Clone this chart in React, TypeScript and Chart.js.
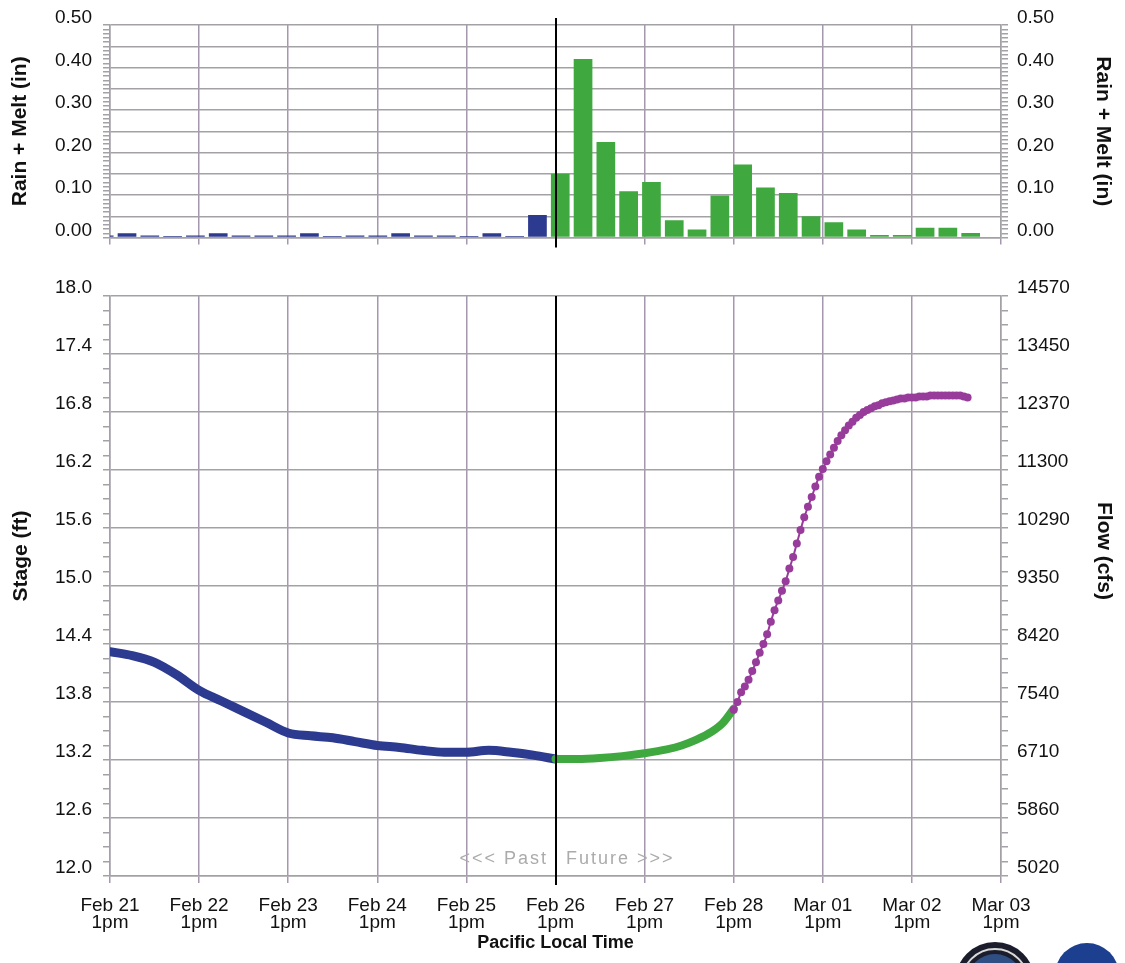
import React, { useEffect, useRef } from 'react';
import { Chart, registerables } from 'chart.js';

Chart.register(...registerables);

const FONT = "'Liberation Sans', Arial, Helvetica, sans-serif";
Chart.defaults.font.family = FONT;
Chart.defaults.color = '#111';

// ---------------- data ----------------
// 6-hour Rain + Melt periods (period 0 is partly cut off at the left edge)
const rainPeriods = [0, 1, 2, 3, 4, 5, 6, 7, 8, 9, 10, 11, 12, 13, 14, 15, 16, 17, 18, 19,
  20, 21, 22, 23, 24, 25, 26, 27, 28, 29, 30, 31, 32, 33, 34, 35, 36, 37, 38];
const rainMelt = [0.005, 0.01, 0.005, 0.004, 0.005, 0.01, 0.005, 0.005, 0.005, 0.01,
  0.004, 0.005, 0.005, 0.01, 0.005, 0.005, 0.004, 0.01, 0.004, 0.053,
  0.15, 0.42, 0.225, 0.109, 0.131, 0.041, 0.019, 0.099, 0.172, 0.118,
  0.105, 0.05, 0.036, 0.019, 0.006, 0.006, 0.023, 0.023, 0.011];
const firstFuturePeriod = 20;
const rainTickLabels = ['0.00', '0.10', '0.20', '0.30', '0.40', '0.50'];

// hours since Feb 21 1pm
const dayTickLabels = [
  ['Feb 21', '1pm'], ['Feb 22', '1pm'], ['Feb 23', '1pm'], ['Feb 24', '1pm'],
  ['Feb 25', '1pm'], ['Feb 26', '1pm'], ['Feb 27', '1pm'], ['Feb 28', '1pm'],
  ['Mar 01', '1pm'], ['Mar 02', '1pm'], ['Mar 03', '1pm'],
];
const nowHour = 120;

const stageTickLabels = ['12.0', '12.6', '13.2', '13.8', '14.4', '15.0', '15.6', '16.2', '16.8', '17.4', '18.0'];
const flowTickLabels = ['5020', '5860', '6710', '7540', '8420', '9350', '10290', '11300', '12370', '13450', '14570'];

// observed stage (blue)
const observedHours = [0, 6, 12, 18, 24, 30, 36, 42, 48, 54, 60, 66, 72, 78, 84, 90, 96, 102, 108, 114, 120];
const observedStage = [14.32, 14.28, 14.21, 14.08, 13.92, 13.81, 13.70, 13.59, 13.48, 13.45, 13.43,
  13.39, 13.35, 13.33, 13.30, 13.28, 13.28, 13.30, 13.28, 13.25, 13.21];

// forecast stage (green)
const forecastHours = [120, 126, 132, 138, 144, 150, 154, 158, 162, 165, 168];
const forecastStage = [13.21, 13.21, 13.22, 13.24, 13.27, 13.31, 13.35, 13.41, 13.49, 13.58, 13.73];

// extended forecast stage (purple, hourly)
const outlookHours = [168, 169, 170, 171, 172, 173, 174, 175, 176, 177, 178, 179, 180, 181, 182, 183,
  184, 185, 186, 187, 188, 189, 190, 191, 192, 193, 194, 195, 196, 197, 198, 199, 200, 201, 202, 203,
  204, 205, 206, 207, 208, 209, 210, 211, 212, 213, 214, 215, 216, 217, 218, 219, 220, 221, 222, 223,
  224, 225, 226, 227, 228, 229, 230, 231];
const outlookStage = [13.72, 13.80, 13.90, 13.96, 14.03, 14.12, 14.21, 14.31, 14.40, 14.50, 14.63, 14.75,
  14.85, 14.95, 15.05, 15.18, 15.30, 15.44, 15.58, 15.71, 15.82, 15.92, 16.03, 16.13, 16.21, 16.29,
  16.36, 16.43, 16.50, 16.56, 16.61, 16.66, 16.70, 16.74, 16.77, 16.80, 16.82, 16.84, 16.86, 16.87,
  16.89, 16.90, 16.91, 16.92, 16.93, 16.94, 16.94, 16.95, 16.95, 16.95, 16.96, 16.96, 16.96, 16.97,
  16.97, 16.97, 16.97, 16.97, 16.97, 16.97, 16.97, 16.97, 16.96, 16.95];

// ---------------- styles ----------------
const BLUE = '#2c3a8f';
const GREEN = '#3fa83f';
const PURPLE = '#983c9b';
const HGRID = '#a3a1a6';
const VGRID = '#a597b0';
const TRANSPARENT = 'rgba(0,0,0,0)';

const dayTicks = dayTickLabels.map((_, i) => i * 24);

function nowLinePlugin(extTop: number, extBottom: number) {
  return {
    id: 'nowLine',
    afterDatasetsDraw(chart: any) {
      const { ctx, chartArea, scales } = chart;
      const x = Math.round(scales.x.getPixelForValue(nowHour));
      ctx.save();
      ctx.strokeStyle = '#000';
      ctx.lineWidth = 2;
      ctx.beginPath();
      ctx.moveTo(x, chartArea.top - extTop);
      ctx.lineTo(x, chartArea.bottom + extBottom);
      ctx.stroke();
      ctx.restore();
    },
  };
}

function TopChart() {
  const ref = useRef<HTMLCanvasElement>(null);
  useEffect(() => {
    const chart = new Chart(ref.current as HTMLCanvasElement, {
      type: 'bar',
      data: {
        datasets: [
          {
            data: rainPeriods.map((p, i) => ({ x: p, y: rainMelt[i] })),
            xAxisID: 'xb',
            yAxisID: 'y',
            backgroundColor: rainPeriods.map((p) => (p < firstFuturePeriod ? BLUE : GREEN)),
            borderWidth: 0,
            barPercentage: 0.82,
            categoryPercentage: 1,
            clip: 0,
          } as any,
        ],
      },
      options: {
        animation: false,
        responsive: false,
        maintainAspectRatio: false,
        layout: { padding: { top: 25, left: 0, right: 0, bottom: 0 } },
        plugins: { legend: { display: false }, tooltip: { enabled: false } },
        scales: {
          xb: { type: 'linear', display: false, min: 0.254, max: 39.33, offset: false, grid: { offset: false } } as any,
          x: {
            type: 'linear',
            position: 'bottom',
            min: 0,
            max: 240,
            offset: false,
            afterBuildTicks: (s: any) => { s.ticks = dayTicks.map((v) => ({ value: v })); },
            afterFit: (s: any) => { s.height = 20; },
            grid: { offset: false, color: VGRID, lineWidth: 1.5, tickLength: 7 },
            border: { display: true, color: HGRID, width: 1.5 },
            ticks: { autoSkip: false, maxRotation: 0, callback: () => '' },
          } as any,
          y: {
            position: 'left',
            min: 0,
            max: 0.5,
            afterBuildTicks: (s: any) => { s.ticks = Array.from({ length: 51 }, (_, i) => ({ value: i / 100 })); },
            afterFit: (s: any) => { s.width = 110; },
            grid: {
              color: (c: any) => (c.index % 5 === 0 ? HGRID : TRANSPARENT),
              tickColor: HGRID,
              lineWidth: 1.5,
              tickLength: 7,
            },
            border: { display: true, color: HGRID, width: 1.5 },
            ticks: {
              autoSkip: false,
              padding: 11,
              labelOffset: -7,
              font: { size: 19 },
              color: '#111',
              callback: (_v: any, i: number) => (i % 10 === 0 ? rainTickLabels[i / 10] : ''),
            },
            title: {
              display: true,
              text: 'Rain + Melt (in)',
              font: { size: 21, weight: 'bold' },
              color: '#111',
              padding: { top: 8, bottom: 0 },
            },
          } as any,
          yr: {
            position: 'right',
            min: 0,
            max: 0.5,
            afterBuildTicks: (s: any) => { s.ticks = Array.from({ length: 51 }, (_, i) => ({ value: i / 100 })); },
            afterFit: (s: any) => { s.width = 124; },
            grid: { drawOnChartArea: false, tickColor: HGRID, lineWidth: 1.5, tickLength: 7 },
            border: { display: true, color: HGRID, width: 1.5 },
            ticks: {
              autoSkip: false,
              padding: 9,
              labelOffset: -7,
              font: { size: 19 },
              color: '#111',
              callback: (_v: any, i: number) => (i % 10 === 0 ? rainTickLabels[i / 10] : ''),
            },
            title: {
              display: true,
              text: 'Rain + Melt (in)',
              font: { size: 21, weight: 'bold' },
              color: '#111',
              padding: { top: 10, bottom: 0 },
            },
          } as any,
        },
      },
      plugins: [nowLinePlugin(7, 10)],
    });
    return () => chart.destroy();
  }, []);
  return (
    <canvas ref={ref} width={1125} height={260} style={{ position: 'absolute', left: 0, top: 0, width: 1125, height: 260 }} />
  );
}

function BottomChart() {
  const ref = useRef<HTMLCanvasElement>(null);
  useEffect(() => {
    const decor = {
      id: 'decor',
      afterDatasetsDraw(chart: any) {
        const { ctx, chartArea, scales } = chart;
        const x = Math.round(scales.x.getPixelForValue(nowHour));
        const y = chartArea.bottom - 17;
        ctx.save();
        ctx.font = `18px ${FONT}`;
        ctx.fillStyle = '#ababab';
        ctx.textBaseline = 'middle';
        try { (ctx as any).letterSpacing = '2px'; } catch (e) { /* ignore */ }
        ctx.textAlign = 'right';
        ctx.fillText('<<< Past', x - 8, y);
        ctx.textAlign = 'left';
        ctx.fillText('Future >>>', x + 10, y);
        ctx.restore();
      },
      afterDraw(chart: any) {
        const { ctx, chartArea } = chart;
        const cy = (chartArea.top + chartArea.bottom) / 2 - 30;
        ctx.save();
        ctx.font = `bold 21px ${FONT}`;
        ctx.fillStyle = '#111';
        ctx.textAlign = 'center';
        ctx.textBaseline = 'middle';
        ctx.translate(21, cy);
        ctx.rotate(-Math.PI / 2);
        ctx.fillText('Stage (ft)', 0, 0);
        ctx.restore();
        ctx.save();
        ctx.font = `bold 21px ${FONT}`;
        ctx.fillStyle = '#111';
        ctx.textAlign = 'center';
        ctx.textBaseline = 'middle';
        ctx.translate(1104, cy - 5);
        ctx.rotate(Math.PI / 2);
        ctx.fillText('Flow (cfs)', 0, 0);
        ctx.restore();
        // agency seals, cut off by the bottom edge
        ctx.save();
        ctx.beginPath();
        ctx.arc(995, 722, 40, 0, Math.PI * 2);
        ctx.fillStyle = '#1b1d2c';
        ctx.fill();
        ctx.beginPath();
        ctx.arc(995, 722, 33, 0, Math.PI * 2);
        ctx.strokeStyle = '#d8d8d8';
        ctx.lineWidth = 2;
        ctx.stroke();
        ctx.beginPath();
        ctx.arc(995, 722, 28, 0, Math.PI * 2);
        ctx.fillStyle = '#2f4f84';
        ctx.fill();
        ctx.beginPath();
        ctx.arc(1087, 715, 32, 0, Math.PI * 2);
        ctx.fillStyle = '#1d3f8f';
        ctx.fill();
        ctx.restore();
      },
    };
    const chart = new Chart(ref.current as HTMLCanvasElement, {
      type: 'line',
      data: {
        datasets: [
          {
            data: outlookHours.map((h, i) => ({ x: h, y: outlookStage[i] })),
            borderColor: PURPLE,
            borderWidth: 2,
            pointRadius: 4,
            pointBackgroundColor: PURPLE,
            pointBorderWidth: 0,
            cubicInterpolationMode: 'monotone',
          },
          {
            data: forecastHours.map((h, i) => ({ x: h, y: forecastStage[i] })),
            borderColor: GREEN,
            borderWidth: 8,
            pointRadius: 0,
            cubicInterpolationMode: 'monotone',
            borderCapStyle: 'round',
            borderJoinStyle: 'round',
          },
          {
            data: observedHours.map((h, i) => ({ x: h, y: observedStage[i] })),
            borderColor: BLUE,
            borderWidth: 9,
            pointRadius: 0,
            cubicInterpolationMode: 'monotone',
            borderCapStyle: 'round',
            borderJoinStyle: 'round',
          },
        ] as any,
      },
      options: {
        animation: false,
        responsive: false,
        maintainAspectRatio: false,
        layout: { padding: { top: 36, left: 0, right: 0, bottom: 0 } },
        plugins: { legend: { display: false }, tooltip: { enabled: false } },
        scales: {
          x: {
            type: 'linear',
            position: 'bottom',
            min: 0,
            max: 240,
            offset: false,
            afterBuildTicks: (s: any) => { s.ticks = dayTicks.map((v) => ({ value: v })); },
            afterFit: (s: any) => { s.height = 87; },
            grid: { color: VGRID, lineWidth: 1.5, tickLength: 7 },
            border: { display: true, color: HGRID, width: 1.5 },
            ticks: {
              autoSkip: false,
              maxRotation: 0,
              minRotation: 0,
              padding: 14,
              font: { size: 19, lineHeight: 0.9 },
              color: '#111',
              callback: (_v: any, i: number) => dayTickLabels[i],
            },
            title: {
              display: true,
              text: 'Pacific Local Time',
              font: { size: 18, weight: 'bold' },
              color: '#111',
              padding: { top: 0, bottom: 9 },
            },
          } as any,
          y: {
            position: 'left',
            min: 12,
            max: 18,
            afterBuildTicks: (s: any) => { s.ticks = Array.from({ length: 41 }, (_, i) => ({ value: 12 + i * 0.15 })); },
            afterFit: (s: any) => { s.width = 110; },
            grid: {
              color: (c: any) => (c.index % 4 === 0 ? HGRID : TRANSPARENT),
              tickColor: HGRID,
              lineWidth: 1.5,
              tickLength: 7,
            },
            border: { display: true, color: HGRID, width: 1.5 },
            ticks: {
              autoSkip: false,
              padding: 11,
              labelOffset: -8,
              font: { size: 19 },
              color: '#111',
              callback: (_v: any, i: number) => (i % 4 === 0 ? stageTickLabels[i / 4] : ''),
            },
          } as any,
          yr: {
            position: 'right',
            min: 12,
            max: 18,
            afterBuildTicks: (s: any) => { s.ticks = Array.from({ length: 41 }, (_, i) => ({ value: 12 + i * 0.15 })); },
            afterFit: (s: any) => { s.width = 124; },
            grid: { drawOnChartArea: false, tickColor: HGRID, lineWidth: 1.5, tickLength: 7 },
            border: { display: true, color: HGRID, width: 1.5 },
            ticks: {
              autoSkip: false,
              padding: 9,
              labelOffset: -8,
              font: { size: 19 },
              color: '#111',
              callback: (_v: any, i: number) => (i % 4 === 0 ? flowTickLabels[i / 4] : ''),
            },
          } as any,
        },
      },
      plugins: [nowLinePlugin(0, 9), decor],
    });
    return () => chart.destroy();
  }, []);
  return (
    <canvas ref={ref} width={1125} height={703} style={{ position: 'absolute', left: 0, top: 260, width: 1125, height: 703 }} />
  );
}

export default function App() {
  return (
    <div style={{ position: 'absolute', left: 0, top: 0, width: 1125, height: 963, background: '#fff', overflow: 'hidden' }}>
      <TopChart />
      <BottomChart />
    </div>
  );
}
